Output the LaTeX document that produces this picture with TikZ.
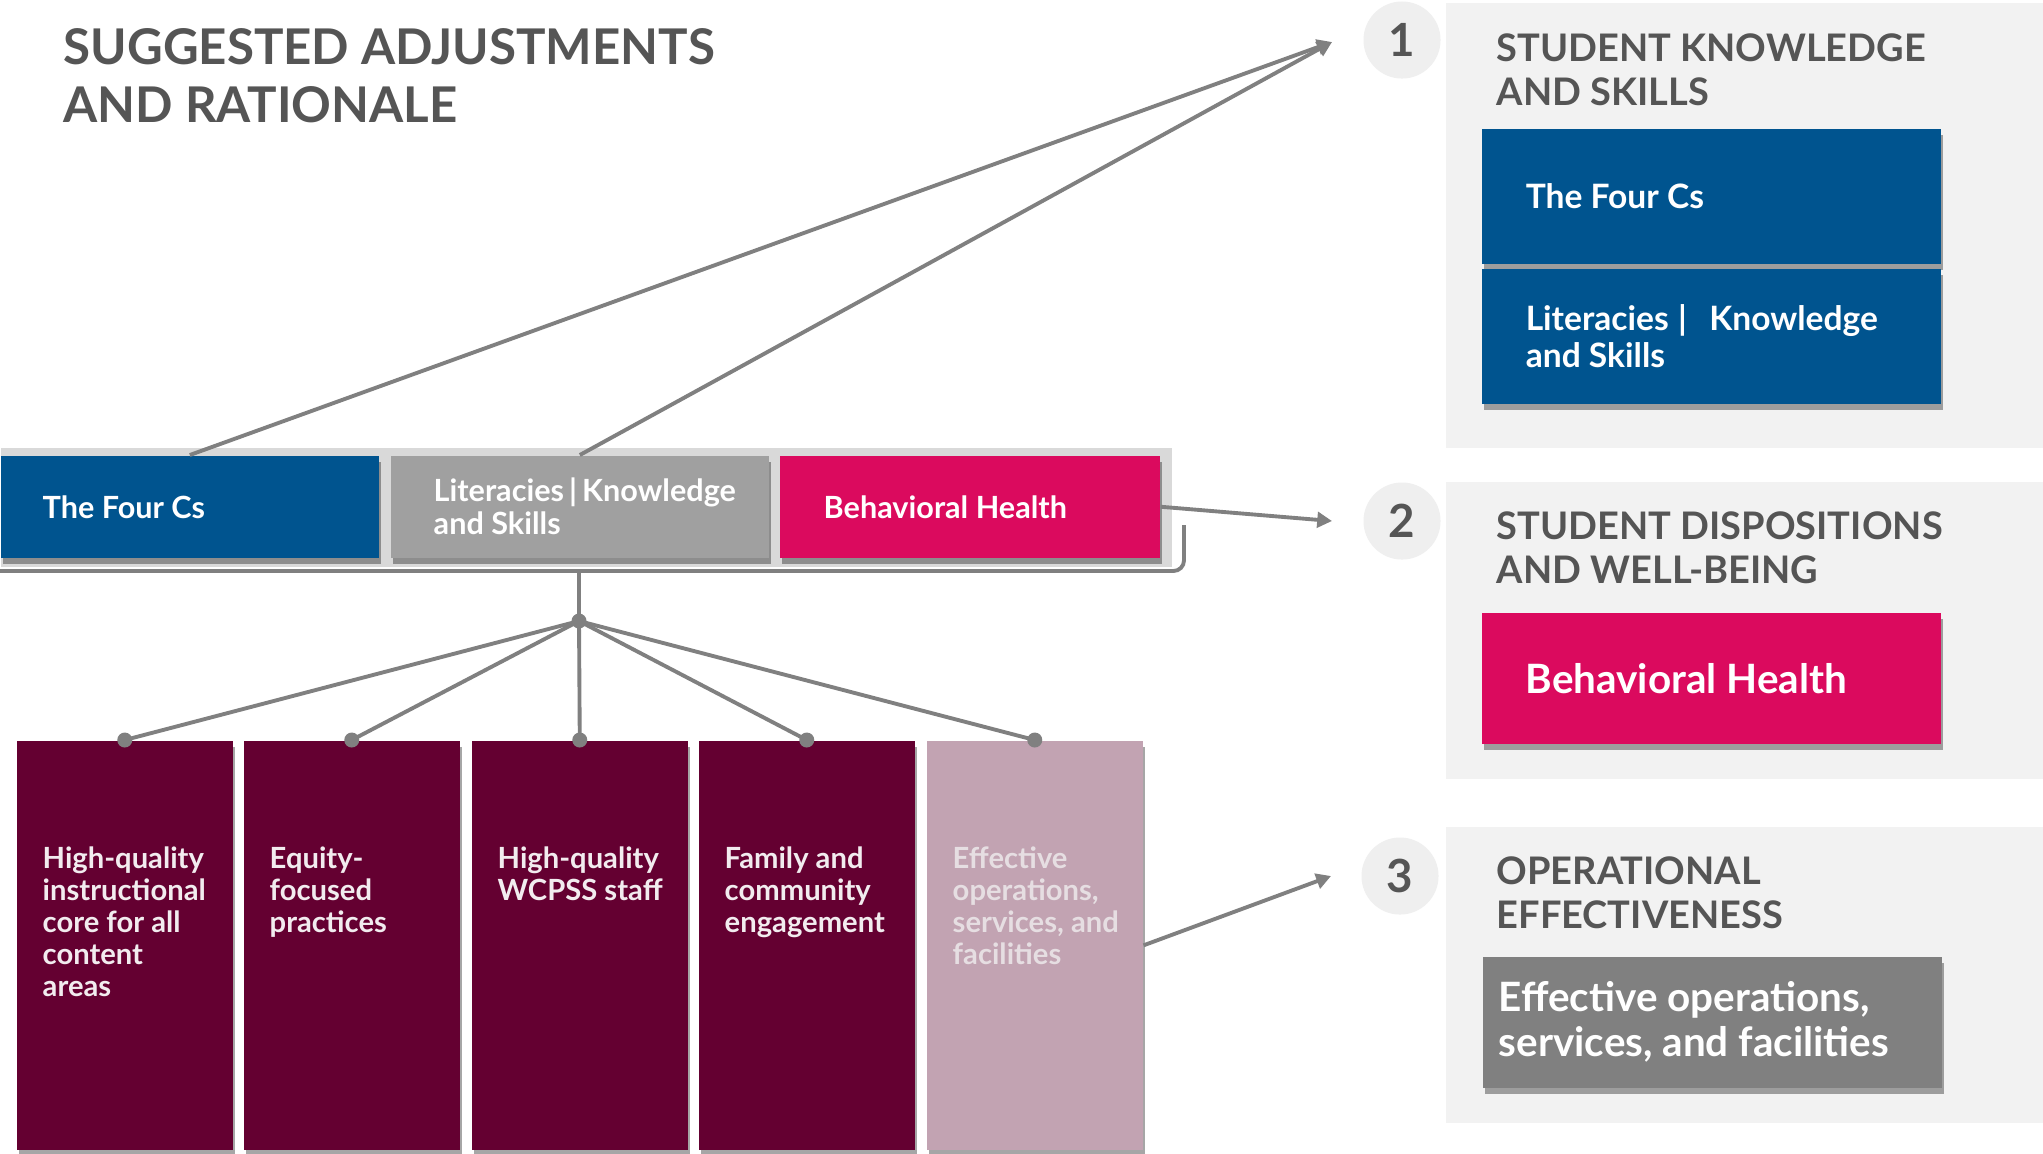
\documentclass[tikz,border=0pt]{standalone}
\usepackage{fontspec}
\setmainfont{Lato}
\usetikzlibrary{arrows.meta,shadows}
\definecolor{cblue}{HTML}{00548F}
\definecolor{cpink}{HTML}{DB0A5E}
\definecolor{cmaroon}{HTML}{640031}
\definecolor{clmaroon}{HTML}{C2A3B2}
\definecolor{cgreybox}{HTML}{A0A0A0}
\definecolor{cdarkbox}{HTML}{808080}
\definecolor{cpanel}{HTML}{F2F2F2}
\definecolor{ccircle}{HTML}{EFEFEF}
\definecolor{cband}{HTML}{D9D9D9}
\definecolor{chead}{HTML}{555555}
\definecolor{cline}{HTML}{808080}
\definecolor{ctxt}{HTML}{F2ECEF}
\definecolor{cfaint}{HTML}{E6DEE2}
\begin{document}
\begin{tikzpicture}[x=0.01cm,y=-0.01cm,
  boxbase/.style={draw=none,inner sep=0pt,anchor=north west,rectangle},
  shad/.style={drop shadow={shadow xshift=0.6pt,shadow yshift=-1.8pt,opacity=0.35,fill=black}},
  toptxt/.style={anchor=west,inner sep=0pt,align=left,text=white,font=\bfseries\fontsize{8.7}{9.4}\selectfont},
  bottxt/.style={anchor=north west,inner sep=0pt,align=left,text=ctxt,font=\bfseries\fontsize{8.3}{9.1}\selectfont},
  rtxt/.style={anchor=west,inner sep=0pt,align=left,text=white,font=\bfseries\fontsize{9.55}{10.5}\selectfont},
  bigtxt/.style={anchor=west,inner sep=0pt,align=left,text=white,font=\bfseries\fontsize{11.5}{12.8}\selectfont},
  headtxt/.style={anchor=north west,inner sep=0pt,align=left,text=chead,font=\bfseries\fontsize{10.8}{12.5}\selectfont},
  numcirc/.style={circle,fill=ccircle,minimum size=0.77cm,inner sep=0pt,text=chead,font=\bfseries\fontsize{13}{13}\selectfont},
  conn/.style={draw=cline,line width=1.1pt},
  arr/.style={conn,-{Triangle[length=4.2pt,width=4.4pt]}},
  dot/.style={circle,fill=cline,minimum size=0.15cm,inner sep=0pt}
]
\useasboundingbox (0,0) rectangle (2043,1153);
\fill[white] (0,0) rectangle (2043,1153);

% title
\node[anchor=north west,inner sep=0pt,align=left,text=chead,font=\bfseries\fontsize{14}{16.5}\selectfont] (title) at (63,28) {SUGGESTED ADJUSTMENTS\\AND RATIONALE};

% right panels
\node[boxbase,fill=cpanel,minimum width=5.98cm,minimum height=4.45cm] (p1) at (1445,2) {};
\node[boxbase,fill=cpanel,minimum width=5.98cm,minimum height=2.97cm] (p2) at (1445,481) {};
\node[boxbase,fill=cpanel,minimum width=5.98cm,minimum height=2.96cm] (p3) at (1445,826) {};

\node[numcirc] (n1) at (1402,40) {1};
\node[numcirc] (n2) at (1402,521) {2};
\node[numcirc] (n3) at (1400,876) {3};

\node[headtxt] (h1) at (1496,33) {STUDENT KNOWLEDGE\\AND SKILLS};
\node[headtxt] (h2) at (1496,511) {STUDENT DISPOSITIONS\\AND WELL-BEING};
\node[headtxt] (h3) at (1496,856) {OPERATIONAL\\EFFECTIVENESS};

\node[boxbase,shad,fill=cblue,minimum width=4.59cm,minimum height=1.35cm] (r1) at (1481,128) {};
\node[boxbase,shad,fill=cblue,minimum width=4.59cm,minimum height=1.35cm] (r2) at (1481,268) {};
\node[boxbase,shad,fill=cpink,minimum width=4.59cm,minimum height=1.31cm] (r3) at (1481,612) {};
\node[boxbase,shad,fill=cdarkbox,minimum width=4.59cm,minimum height=1.31cm] (r4) at (1482,956) {};
\node[rtxt] (r1t) at ([xshift=0.44cm]r1.west) {The Four Cs};
\node[rtxt] (r2t) at ([xshift=0.44cm]r2.west) {Literacies\;|\enspace\,Knowledge\\and Skills};
\node[bigtxt] (r3t) at ([xshift=0.44cm]r3.west) {Behavioral Health};
\node[bigtxt] (r4t) at ([xshift=0.16cm]r4.west) {Effective operations,\\services, and facilities};

% top row
\node[boxbase,fill=cband,minimum width=11.71cm,minimum height=1.19cm] (band) at (0,447) {};
\node[boxbase,shad,fill=cblue,minimum width=3.78cm,minimum height=1.02cm] (fourcs) at (0,455) {};
\node[boxbase,shad,fill=cgreybox,minimum width=3.78cm,minimum height=1.02cm] (lit) at (390,455) {};
\node[boxbase,shad,fill=cpink,minimum width=3.80cm,minimum height=1.02cm] (beh) at (779,455) {};
\node[toptxt] (fourcst) at ([xshift=0.42cm]fourcs.west) {The Four Cs};
\node[toptxt] (litt) at ([xshift=0.43cm]lit.west) {Literacies\,|\,Knowledge\\and Skills};
\node[toptxt] (beht) at ([xshift=0.44cm]beh.west) {Behavioral Health};

% bracket
\coordinate (bk1) at (1184,525);
\coordinate (bk2) at (0,571);
\coordinate (bk) at (579,571);
\draw[conn,rounded corners=3pt] (bk1) |- (bk2);

% bottom boxes
\node[boxbase,shad,fill=cmaroon,minimum width=2.16cm,minimum height=4.09cm] (b1) at (16,740) {};
\node[boxbase,shad,fill=cmaroon,minimum width=2.16cm,minimum height=4.09cm] (b2) at (243,740) {};
\node[boxbase,shad,fill=cmaroon,minimum width=2.16cm,minimum height=4.09cm] (b3) at (471,740) {};
\node[boxbase,shad,fill=cmaroon,minimum width=2.16cm,minimum height=4.09cm] (b4) at (698,740) {};
\node[boxbase,shad,fill=clmaroon,minimum width=2.16cm,minimum height=4.09cm] (b5) at (926,740) {};
\node[bottxt] (b1t) at ([xshift=0.26cm,yshift=-1.06cm]b1.north west) {High-quality\\instructional\\core for all\\content\\areas};
\node[bottxt] (b2t) at ([xshift=0.26cm,yshift=-1.06cm]b2.north west) {Equity-\\focused\\practices};
\node[bottxt] (b3t) at ([xshift=0.26cm,yshift=-1.06cm]b3.north west) {High-quality\\WCPSS staff};
\node[bottxt] (b4t) at ([xshift=0.26cm,yshift=-1.06cm]b4.north west) {Family and\\community\\engagement};
\node[bottxt,text=cfaint] (b5t) at ([xshift=0.26cm,yshift=-1.06cm]b5.north west) {Effective\\operations,\\services, and\\facilities};

% hub and dots
\node[dot] (hub) at (579,621) {};
\node[dot] (d1) at (b1.north) {};
\node[dot] (d2) at (b2.north) {};
\node[dot] (d3) at (b3.north) {};
\node[dot] (d4) at (b4.north) {};
\node[dot] (d5) at (b5.north) {};
\draw[conn] (bk) -- (hub.center);
\foreach \d in {d1,d2,d3,d4,d5} \draw[conn] (hub.center) -- (\d.center);

% arrows to categories
\coordinate (a1) at (1332,42);
\coordinate (a2) at (1332,521);
\coordinate (a3) at (1331,876);
\draw[arr] (fourcs.north) -- (a1);
\draw[arr] (lit.north) -- (a1);
\draw[arr] (beh.east) -- (a2);
\draw[arr] (b5.east) -- (a3);
\end{tikzpicture}
\end{document}
